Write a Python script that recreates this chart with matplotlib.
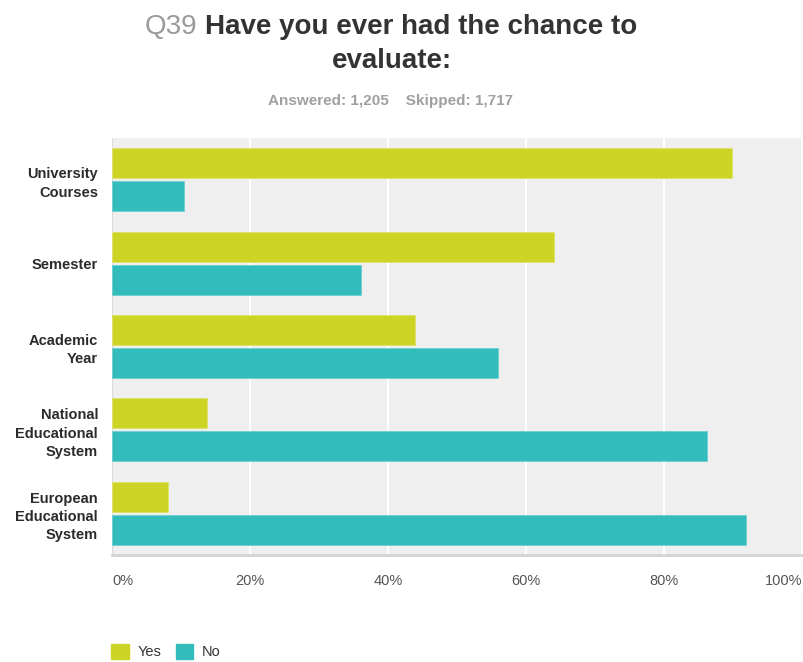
import matplotlib
matplotlib.use('Agg')
import matplotlib.pyplot as plt
from matplotlib.patches import Patch
import numpy as np

## chart data
categories = ['University\nCourses', 'Semester', 'Academic\nYear',
              'National\nEducational\nSystem', 'European\nEducational\nSystem']
yes_pct = [89.8, 64.0, 43.9, 13.7, 8.1]
no_pct = [10.5, 36.1, 55.9, 86.3, 91.9]
series_names = ['Yes', 'No']
xticks = [0, 20, 40, 60, 80, 100]
xtick_labels = ['0%', '20%', '40%', '60%', '80%', '100%']

yes_color = '#cdd426'
no_color = '#32bcbc'

plt.rcParams['font.family'] = ['Liberation Sans', 'DejaVu Sans']

W, H = 804, 662
fig = plt.figure(figsize=(W / 100, H / 100), dpi=100)
fig.patch.set_facecolor('white')

## axes placed in pixel terms
left, right, top, bottom = 112, 802, 138, 555
ax = fig.add_axes([left / W, 1 - bottom / H, (right - left) / W, (bottom - top) / H])
ax.set_facecolor('#efefef')

ypos = np.arange(len(categories))
bh = 0.36
off = 0.198
ax.barh(ypos - off, yes_pct, height=bh, color=yes_color, edgecolor='#dfe46a', linewidth=0.6, zorder=3)
ax.barh(ypos + off, no_pct, height=bh, color=no_color, edgecolor='#6fd0d0', linewidth=0.6, zorder=3)

ax.set_xlim(0, 100)
ax.set_ylim(len(categories) - 0.5, -0.5)
ax.set_yticks(ypos)
ax.set_yticklabels(categories, fontsize=10.5, fontweight='bold', color='#2b2b2b', linespacing=1.4)
ax.set_xticks(xticks)
ax.set_xticklabels(xtick_labels, fontsize=10.5, color='#555555')
ax.tick_params(axis='both', length=0)
ax.tick_params(axis='y', pad=10)
ax.tick_params(axis='x', pad=14)
labs = ax.get_xticklabels()
labs[0].set_horizontalalignment('left')
labs[-1].set_horizontalalignment('right')

ax.grid(axis='x', color='white', linewidth=1.5, zorder=1)
for s in ['top', 'right']:
    ax.spines[s].set_visible(False)
ax.spines['left'].set_color('#dcdcdc')
ax.spines['bottom'].set_color('#d4d4d4')
ax.spines['bottom'].set_linewidth(2)

## title and subtitle
def px(x, y):
    return x / W, 1 - y / H

fig.text(*px(145, 27), 'Q39', fontsize=20, color='#9a9a9a', ha='left', va='center')
fig.text(*px(205, 27), 'Have you ever had the chance to', fontsize=20, fontweight='bold',
         color='#333333', ha='left', va='center')
fig.text(*px(392, 61), 'evaluate:', fontsize=20, fontweight='bold', color='#333333',
         ha='center', va='center')
fig.text(*px(391, 101), 'Answered: 1,205    Skipped: 1,717', fontsize=11, fontweight='bold',
         color='#a0a0a0', ha='center', va='center')

## legend
handles = [Patch(facecolor=yes_color, edgecolor=yes_color),
           Patch(facecolor=no_color, edgecolor=no_color)]
fig.legend(handles, series_names, loc='lower left', bbox_to_anchor=(98 / W, -0.016),
           ncol=2, frameon=False, handlelength=1.2, handleheight=1.2, handletextpad=0.6,
           columnspacing=1.0, fontsize=10.5, labelcolor='#333333')

fig.savefig('out.png', dpi=100)
